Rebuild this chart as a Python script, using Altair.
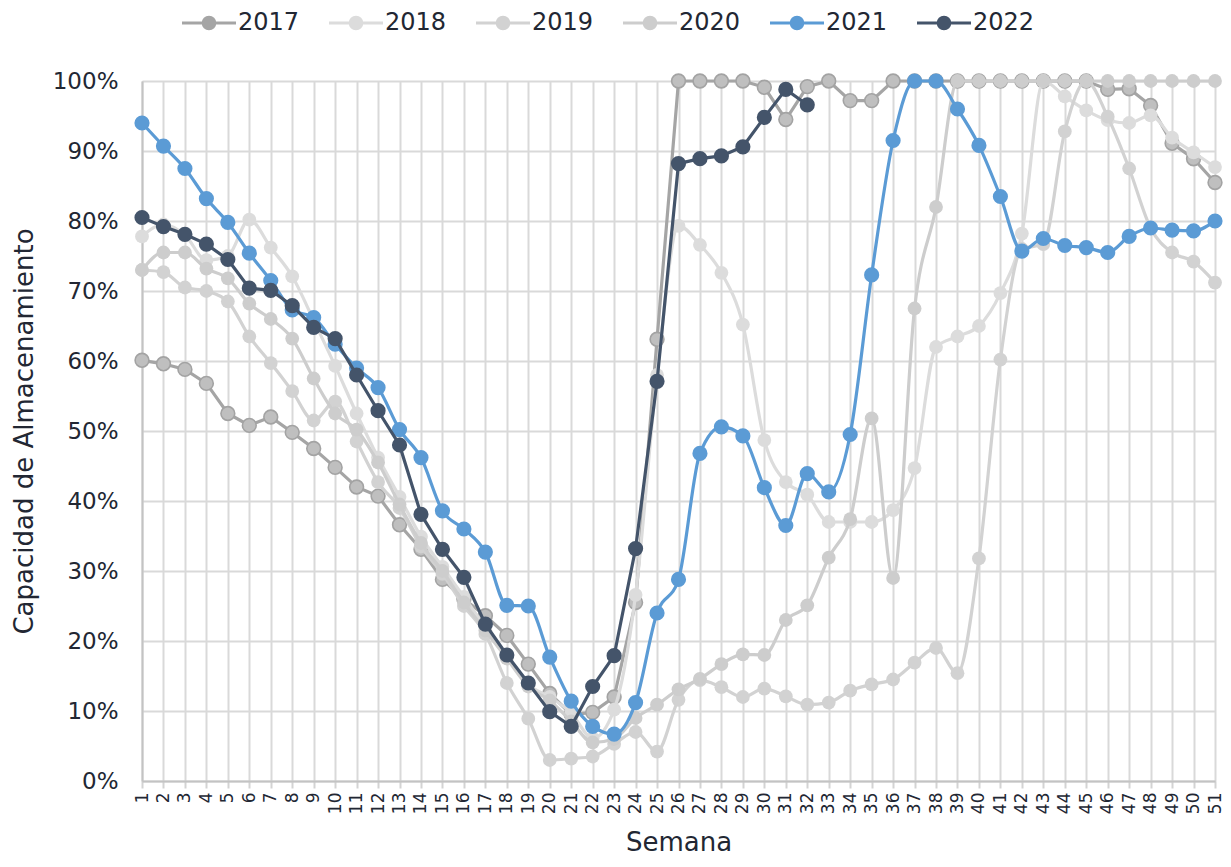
import altair as alt
import pandas as pd

weeks = list(range(1, 52))
years = ["2017", "2018", "2019", "2020", "2021", "2022"]
colors = ["#a5a5a5", "#dcdcdc", "#d2d2d2", "#cdcdcd", "#5b9bd5", "#44546a"]

v2017 = [60.1, 59.6, 58.8, 56.8, 52.5, 50.8, 52.0, 49.8, 47.5, 44.8,
         42.0, 40.7, 36.6, 33.1, 28.8, 26.0, 23.6, 20.8, 16.7, 12.5,
         9.5, 9.8, 12.0, 25.5, 63.1, 100, 100, 100, 100, 99.1,
         94.5, 99.2, 100, 97.2, 97.2, 100, 100, 100, 100, 100,
         100, 100, 100, 100, 100, 98.8, 98.9, 96.5, 91.1, 88.9, 85.5]
v2018 = [77.8, 79.5, 78.0, 74.4, 75.0, 80.2, 76.2, 72.1, 65.8, 59.3,
         52.5, 46.2, 40.6, 34.9, 30.6, 26.3, 22.0, 18.0, 13.8, 12.0,
         9.7, 6.1, 10.2, 26.6, 58.0, 79.3, 76.6, 72.6, 65.2, 48.7,
         42.7, 40.9, 37.0, 37.0, 37.0, 38.7, 44.7, 62.0, 63.5, 65.0,
         69.7, 78.2, 100, 97.8, 95.8, 94.4, 94.0, 95.1, 91.9, 89.8, 87.7]
v2019 = [73.0, 72.7, 70.5, 70.0, 68.5, 63.5, 59.7, 55.7, 51.5, 54.2,
         48.5, 42.7, 39.0, 33.5, 29.6, 25.0, 21.0, 14.0, 8.9, 3.0,
         3.2, 3.5, 5.3, 7.0, 4.2, 11.6, 14.4, 13.4, 12.0, 13.2,
         12.1, 10.9, 11.2, 12.9, 13.8, 14.5, 16.9, 19.0, 15.4, 31.8,
         60.2, 76.0, 76.7, 92.8, 100, 94.9, 87.5, 79.0, 75.5, 74.2, 71.2]
v2020 = [73.0, 75.5, 75.5, 73.2, 71.8, 68.2, 66.0, 63.2, 57.5, 52.5,
         50.2, 45.5, 39.5, 34.0, 30.0, 25.5, 21.5, 17.5, 13.5, 11.5,
         8.5, 5.5, 6.0, 9.0, 10.9, 13.1, 14.6, 16.7, 18.1, 18.0,
         23.0, 25.1, 31.9, 37.4, 51.8, 29.0, 67.5, 82.0, 100, 100,
         100, 100, 100, 100, 100, 100, 100, 100, 100, 100, 100]
v2021 = [94.0, 90.7, 87.5, 83.2, 79.8, 75.4, 71.5, 67.3, 66.2, 62.4,
         59.0, 56.2, 50.2, 46.2, 38.6, 36.0, 32.7, 25.1, 25.0, 17.7,
         11.4, 7.8, 6.7, 11.2, 24.0, 28.8, 46.8, 50.6, 49.3, 41.9,
         36.5, 43.9, 41.3, 49.5, 72.3, 91.5, 100, 100, 96.0, 90.8,
         83.5, 75.7, 77.5, 76.5, 76.2, 75.5, 77.8, 79.0, 78.7, 78.6, 80.0]
v2022 = [80.5, 79.2, 78.1, 76.7, 74.5, 70.4, 70.1, 67.9, 64.8, 63.2,
         58.0, 52.9, 48.0, 38.1, 33.1, 29.1, 22.4, 18.0, 14.0, 9.9,
         7.8, 13.5, 17.9, 33.2, 57.1, 88.2, 88.9, 89.3, 90.6, 94.8,
         98.8, 96.6]

series = {"2017": v2017, "2018": v2018, "2019": v2019,
          "2020": v2020, "2021": v2021, "2022": v2022}
smooth = {"2017": "linear", "2018": "monotone", "2019": "monotone",
          "2020": "monotone", "2021": "monotone", "2022": "linear"}

rows = []
for yr in years:
    for w, v in zip(weeks, series[yr]):
        rows.append({"Semana": w, "Valor": v, "Año": yr})
df = pd.DataFrame(rows)

FONT = "DejaVu Sans"
TXT = "#222733"

legend_path = ("M-2,0H2 "
               "M-0.43,0A0.43,0.43 0 1,1 0.43,0A0.43,0.43 0 1,1 -0.43,0Z "
               "M-0.27,0A0.27,0.27 0 1,1 0.27,0A0.27,0.27 0 1,1 -0.27,0Z "
               "M-0.11,0A0.11,0.11 0 1,1 0.11,0A0.11,0.11 0 1,1 -0.11,0Z")

legend = alt.Legend(
    title=None, orient="none", legendX=52, legendY=-73,
    direction="horizontal", columns=6, symbolType=legend_path,
    symbolSize=729, symbolStrokeWidth=3, labelFont=FONT, labelFontSize=24,
    labelColor=TXT, labelOffset=14, columnPadding=23,
    padding=0, labelLimit=200,
)

x_enc = alt.X("Semana:O", sort=weeks,
              scale=alt.Scale(type="point", padding=0),
              axis=alt.Axis(title="Semana", labelAngle=270, labelFont=FONT,
                            labelFontSize=17, labelColor=TXT, labelPadding=4,
                            ticks=True, tickSize=7, tickColor="#d3d3d3",
                            tickWidth=2, grid=True, gridColor="#d9d9d9",
                            gridWidth=2, domainColor="#c3c3c3", domainWidth=2,
                            titleFont=FONT, titleFontSize=26,
                            titleFontWeight="normal", titleColor=TXT,
                            titlePadding=16))
y_enc = alt.Y("Valor:Q", scale=alt.Scale(domain=[0, 100], nice=False),
              axis=alt.Axis(title="Capacidad de Almacenamiento",
                            values=list(range(0, 101, 10)),
                            labelExpr="datum.value + '%'", labelFont=FONT,
                            labelFontSize=23, labelColor=TXT, labelPadding=24,
                            ticks=False, grid=True, gridColor="#d9d9d9",
                            gridWidth=2, domainColor="#c3c3c3", domainWidth=2,
                            titleFont=FONT, titleFontSize=26,
                            titleFontWeight="normal", titleColor=TXT,
                            titlePadding=15))
c_enc = alt.Color("Año:N", scale=alt.Scale(domain=years, range=colors),
                  legend=legend)

base = alt.Chart(df)
layers = []
for yr, col in zip(years, colors):
    sub = base.transform_filter(alt.datum["Año"] == yr)
    layers.append(sub.mark_line(strokeWidth=3.2, interpolate=smooth[yr])
                  .encode(x=x_enc, y=y_enc, color=c_enc))
    if yr == "2017":
        layers.append(sub.mark_point(filled=True, size=190, opacity=1,
                                     fill="#bfbfbf", stroke="#a3a3a3",
                                     strokeWidth=1.6)
                      .encode(x=x_enc, y=y_enc))
    else:
        size = 230 if yr in ("2021", "2022") else 190
        layers.append(sub.mark_point(filled=True, size=size, opacity=1)
                      .encode(x=x_enc, y=y_enc, color=c_enc))

chart = alt.layer(*layers).properties(
    width=1073, height=700,
    autosize=alt.AutoSizeParams(type="none"),
    padding={"left": 134, "top": 73, "right": 8, "bottom": 78},
).configure_view(stroke=None).configure(background="white")

chart.save("out.html", embed_options={"renderer": "svg", "actions": False})
